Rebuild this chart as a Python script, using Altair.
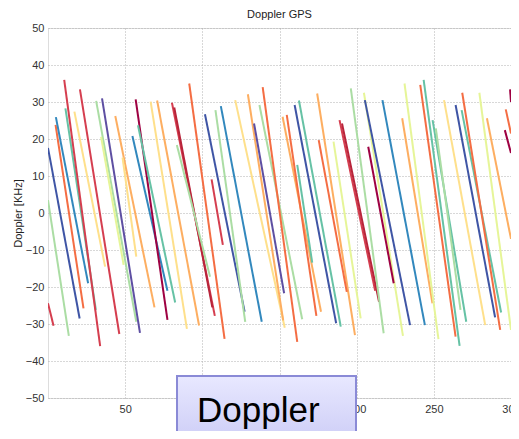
import altair as alt
import pandas as pd

# palette (Spectral-like)
MAR = "#9e0142"; RED = "#d53e4f"; ORR = "#f46d43"; LOR = "#fdae61"; PYL = "#fee08b"
LYG = "#e6f598"; LGR = "#abdda4"; TEA = "#66c2a5"; BLU = "#3288bd"; NAV = "#3f55a5"; PUR = "#5e4fa2"

seg_x0 = [0, 0, 0, 4.9, 5.1, 11.3, 10.5, 17.1, 20.7, 31.2, 35, 34.4, 43.6, 48.3, 54.7, 56.8, 58.3, 66.5,
          70.7, 80.3, 81.8, 83.5, 91.5, 106, 101.7, 108.5, 112, 121.3, 129.5, 133.5, 137, 139.1, 152, 154.7,
          159.8, 162.6, 161.5, 174.4, 175.4, 185, 188.9, 190.5, 196.2, 204.7, 205.3, 207.5, 216.7, 229.5, 231,
          241.2, 243.4, 249.2, 251.3, 256.6, 264.1, 268, 268.4, 279.5, 284.4, 299.4, 296, 296.6]
seg_y0 = [3.5, -24.4, 17.6, 23.8, 25.9, 28.3, 36, 27.4, 33.4, 30.3, 31, 20.6, 26.2, 15, 20.8, 30.7, 23.7, 30.1,
          30.4, 29.8, 28.5, 18.4, 35, 9.1, 26.7, 27.8, 28.9, 30.5, 32.1, 24.2, 29.2, 34, 26, 26.5,
          29.2, 30.4, 13, 32.3, 19.7, 19.3, 25.1, 24.2, 33.7, 32.5, 30.5, 17.9, 30.5, 25.6, 35,
          34.6, 36, 25.1, 22.9, 30.5, 29.2, 27.8, 32.5, 32.5, 25.6, 33.4, 22.4, 28]
seg_x1 = [13.5, 3.6, 20.5, 23, 26, 31, 33.8, 37, 46.2, 57.2, 59.6, 49, 69, 57.2, 77.4, 77.4, 82.4, 90,
          97.9, 108.1, 106.5, 105, 114.4, 113.3, 127.4, 127.8, 138.5, 153.4, 152.4, 153, 164.7, 161.5, 176.9, 173.9,
          186.7, 189.7, 171.2, 198.9, 193.6, 202.6, 212, 214.5, 217.5, 230, 234.6, 224, 244.2, 249.1, 253,
          264.1, 266.7, 271, 267.3, 283.3, 289.7, 293.6, 293, 300, 300, 300, 300, 300]
seg_y1 = [-33.2, -30.5, -28.5, -25.8, -19, -26.2, -36, -14.5, -32.7, -29.4, -32.4, -14, -25.5, -11.8, -21, -28.9, -24.2, -31.3,
          -30.4, -27.8, -25.5, -17.2, -34, -8.6, -26.7, -29.4, -29.4, -31, -29, -21.7, -28.7, -34.8, -26.7, -27.8,
          -29.8, -30.7, -13.4, -33, -21.3, -28.5, -21, -24, -32.5, -33.2, -30.3, -19, -30.3, -24.4, -34.1,
          -33.4, -35.9, -29.4, -26.2, -30.3, -28.2, -26.9, -31.6, -31.6, -7, 30, 16.2, 21.5]
seg_col = [LGR, RED, NAV, ORR, BLU, TEA, RED, PYL, RED, LGR, PUR, LYG, LOR, PYL, BLU, MAR, TEA, PYL,
           LOR, RED, "#b8243a", LGR, ORR, RED, NAV, LGR, BLU, PYL, LOR, PUR, LGR, ORR, LOR, ORR,
           NAV, TEA, TEA, LOR, ORR, LYG, RED, "#b8243a", LGR, LYG, NAV, MAR, BLU, LOR, LYG,
           ORR, TEA, TEA, LGR, PYL, NAV, TEA, ORR, LYG, LOR, MAR, MAR, ORR]

x_ticks = [50, 100, 150, 200, 250, 300]
y_ticks = [-50, -40, -30, -20, -10, 0, 10, 20, 30, 40, 50]

rows = []
for i in range(len(seg_x0)):
    rows.append({"seg": i, "o": 0, "x": seg_x0[i], "y": seg_y0[i], "c": seg_col[i]})
    rows.append({"seg": i, "o": 1, "x": seg_x1[i], "y": seg_y1[i], "c": seg_col[i]})
df = pd.DataFrame(rows)

FONT = "Liberation Sans"

lines = alt.Chart(df).mark_line(strokeWidth=2, clip=True).encode(
    x=alt.X("x:Q", scale=alt.Scale(domain=[0, 300], nice=False, zero=False),
            axis=alt.Axis(values=x_ticks, title=None, grid=True, gridDash=[1, 2], gridColor="#b0b0b0",
                          ticks=False, labelPadding=5, labelFont=FONT, labelFontSize=11,
                          labelColor="#333", domain=False, labelFlush=False)),
    y=alt.Y("y:Q", scale=alt.Scale(domain=[-50, 50], nice=False),
            axis=alt.Axis(values=y_ticks, title="Doppler [KHz]", grid=True, gridDash=[1, 2],
                          gridColor="#b0b0b0", ticks=False, labelPadding=4, labelFont=FONT,
                          labelFontSize=11, labelColor="#333", domain=False,
                          titleFont=FONT, titleFontSize=11, titleFontWeight="normal", titleColor="#222",
                          titleX=-30, titleY=185, titleAngle=270, titleAlign="center",
                          titleBaseline="middle")),
    detail="seg:N",
    order="o:Q",
    color=alt.Color("c:N", scale=None),
)

box = alt.Chart(pd.DataFrame({"k": [0]})).mark_rect(
    stroke="#8a8ad6", strokeWidth=2,
    color=alt.Gradient(gradient="linear", x1=0, x2=0, y1=0, y2=1,
                       stops=[alt.GradientStop(color="#e8e8ff", offset=0),
                              alt.GradientStop(color="#cfcff7", offset=1)]),
).encode(x=alt.value(129), x2=alt.value(308), y=alt.value(348), y2=alt.value(410))

label = alt.Chart(pd.DataFrame({"t": ["Doppler"]})).mark_text(
    font=FONT, fontSize=35, align="left", baseline="alphabetic", color="#000"
).encode(x=alt.value(149), y=alt.value(394), text="t:N")

chart = alt.layer(lines, box, label).properties(
    width=463, height=370,
    title=alt.TitleParams("Doppler GPS", font=FONT, fontSize=11, fontWeight="normal",
                          color="#222", anchor="middle", offset=2),
    autosize=alt.AutoSizeParams(type="none"),
    padding={"left": 40, "top": 20, "right": 0, "bottom": 33},
).configure_view(stroke="#8c8c8c", strokeWidth=1).configure(background="white")

chart.save("out.html", embed_options={"renderer": "svg", "actions": False})
